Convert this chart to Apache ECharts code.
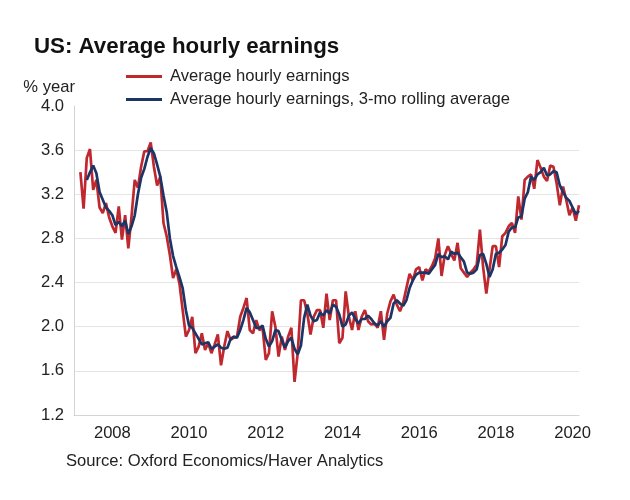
<!DOCTYPE html>
<html>
<head>
<meta charset="utf-8">
<script src="https://cdn.jsdelivr.net/npm/echarts@6/dist/echarts.min.js"></script>
<style>
html,body{margin:0;padding:0;background:#fff;}
#chart{width:630px;height:500px;}
</style>
</head>
<body>
<div id="chart"></div>
<script>
// Monthly categories Jan 2007 .. Mar 2020
const months = [];
for (let y = 2007; y <= 2020; y++) {
  for (let m = 1; m <= 12; m++) {
    if (y === 2020 && m > 3) break;
    months.push(y + '-' + (m < 10 ? '0' + m : m));
  }
}

// Average hourly earnings, % year (starts Mar 2007)
const ahe = [null, null,
  3.40, 3.07, 3.53, 3.61, 3.24, 3.33, 3.08, 3.03, 3.12, 2.99,
  2.91, 2.85, 3.09, 2.79, 3.01, 2.71, 3.00, 3.33, 3.26, 3.45, 3.59, 3.59,
  3.67, 3.45, 3.28, 3.36, 2.94, 2.82, 2.65, 2.44, 2.52, 2.39, 2.15, 1.91,
  1.97, 2.09, 1.76, 1.82, 1.94, 1.79, 1.85, 1.76, 1.84, 1.93, 1.65, 1.82,
  1.96, 1.88, 1.90, 1.91, 2.09, 2.17, 2.26, 1.97, 1.94, 2.06, 1.97, 1.99,
  1.70, 1.76, 2.14, 2.00, 1.73, 1.91, 1.79, 1.91, 1.99, 1.50, 1.76, 2.24,
  2.24, 2.12, 1.93, 2.09, 2.15, 2.15, 1.99, 2.30, 2.06, 2.24, 2.24, 1.85,
  1.90, 2.32, 2.09, 1.97, 2.14, 1.97, 2.09, 2.15, 2.05, 2.02, 2.03, 1.99,
  2.14, 1.88, 2.12, 2.23, 2.29, 2.20, 2.14, 2.22, 2.35, 2.48, 2.42, 2.52,
  2.54, 2.42, 2.52, 2.50, 2.55, 2.62, 2.80, 2.46, 2.65, 2.73, 2.66, 2.60,
  2.76, 2.53, 2.49, 2.45, 2.49, 2.52, 2.56, 2.88, 2.54, 2.30, 2.52, 2.73,
  2.73, 2.54, 2.82, 2.85, 2.91, 2.94, 2.85, 3.18, 2.97, 3.33, 3.36, 3.38,
  3.25, 3.51, 3.44, 3.36, 3.32, 3.46, 3.45, 3.30, 3.10, 3.27, 3.15, 3.01,
  3.08, 2.96, 3.10
];

// 3-mo rolling average, % year (starts May 2007)
const ahe3m = [null, null, null, null,
  3.33, 3.40, 3.46, 3.39, 3.22, 3.15, 3.08, 3.05,
  3.01, 2.92, 2.95, 2.91, 2.96, 2.84, 2.91, 3.01, 3.20, 3.35, 3.43, 3.54,
  3.62, 3.57, 3.47, 3.36, 3.19, 3.04, 2.80, 2.64, 2.54, 2.45, 2.35, 2.15,
  2.01, 1.99, 1.94, 1.89, 1.84, 1.85, 1.86, 1.80, 1.82, 1.84, 1.81, 1.80,
  1.81, 1.89, 1.91, 1.90, 1.97, 2.06, 2.17, 2.13, 2.06, 1.99, 1.99, 2.01,
  1.89, 1.82, 1.87, 1.97, 1.96, 1.88, 1.81, 1.87, 1.90, 1.80, 1.75, 1.83,
  2.08, 2.20, 2.10, 2.05, 2.06, 2.13, 2.10, 2.15, 2.12, 2.20, 2.18, 2.11,
  2.00, 2.02, 2.10, 2.13, 2.07, 2.03, 2.07, 2.07, 2.10, 2.07, 2.03, 2.01,
  2.05, 2.00, 2.05, 2.08, 2.21, 2.24, 2.21, 2.19, 2.24, 2.35, 2.42, 2.47,
  2.49, 2.49, 2.49, 2.48, 2.52, 2.56, 2.66, 2.63, 2.64, 2.61, 2.68, 2.66,
  2.67, 2.63, 2.59, 2.49, 2.48, 2.49, 2.52, 2.65, 2.66, 2.57, 2.45, 2.52,
  2.66, 2.67, 2.70, 2.74, 2.86, 2.90, 2.90, 2.99, 3.00, 3.16, 3.22, 3.36,
  3.33, 3.38, 3.40, 3.44, 3.37, 3.38, 3.41, 3.40, 3.28, 3.22, 3.17, 3.14,
  3.08, 3.02, 3.05
];

const yTicks = { min: 1.2, max: 4.0, step: 0.4 };
const seriesNames = ['Average hourly earnings', 'Average hourly earnings, 3-mo rolling average'];

const FONT = 'Liberation Sans, Arial, sans-serif';
const FS = 16.6;
const chart = echarts.init(document.getElementById('chart'), null, { renderer: 'canvas' });
chart.setOption({
  backgroundColor: '#ffffff',
  animation: false,
  title: [
    { text: 'US: Average hourly earnings', left: 29, top: 31,
      textStyle: { fontFamily: FONT, fontSize: 22.3, fontWeight: 'bold', color: '#111' } },
    { text: 'Source: Oxford Economics/Haver Analytics', left: 61, top: 448,
      textStyle: { fontFamily: FONT, fontSize: FS, fontWeight: 'normal', color: '#222' } }
  ],
  legend: {
    orient: 'vertical', left: 121, top: 63,
    itemWidth: 36, itemHeight: 3, itemGap: 6, icon: 'rect',
    data: seriesNames,
    textStyle: { fontFamily: FONT, fontSize: FS, color: '#222', padding: [0, 0, 0, 3] }
  },
  grid: { left: 74, right: 51, top: 106, bottom: 85 },
  xAxis: {
    type: 'category', data: months, boundaryGap: false,
    axisLine: { lineStyle: { color: '#d4d4d4', width: 1 } },
    axisTick: { show: false },
    axisLabel: {
      fontFamily: FONT, fontSize: FS, color: '#222', margin: 10,
      interval: (i, v) => v.endsWith('-01') && (+v.slice(0, 4)) % 2 === 0,
      formatter: v => v.slice(0, 4)
    },
    splitLine: { show: false }
  },
  yAxis: {
    type: 'value', min: yTicks.min, max: yTicks.max, interval: yTicks.step,
    name: '% year', nameLocation: 'end', nameGap: 10,
    nameTextStyle: { fontFamily: FONT, fontSize: FS, color: '#222', align: 'right', padding: [0, -1, 0, 0] },
    axisLine: { show: true, lineStyle: { color: '#d4d4d4', width: 1 } },
    axisTick: { show: false },
    axisLabel: { fontFamily: FONT, fontSize: FS, color: '#222', margin: 10, formatter: v => v.toFixed(1) },
    splitLine: { show: true, showMaxLine: false, lineStyle: { color: '#e4e4e4', width: 1 } }
  },
  series: [
    { name: seriesNames[0], type: 'line', data: ahe, symbol: 'none', connectNulls: false,
      lineStyle: { color: '#c0282f', width: 2.7 }, itemStyle: { color: '#c0282f' } },
    { name: seriesNames[1], type: 'line', data: ahe3m, symbol: 'none',
      lineStyle: { color: '#1c3566', width: 2.7 }, itemStyle: { color: '#1c3566' } }
  ]
});
</script>
</body>
</html>
